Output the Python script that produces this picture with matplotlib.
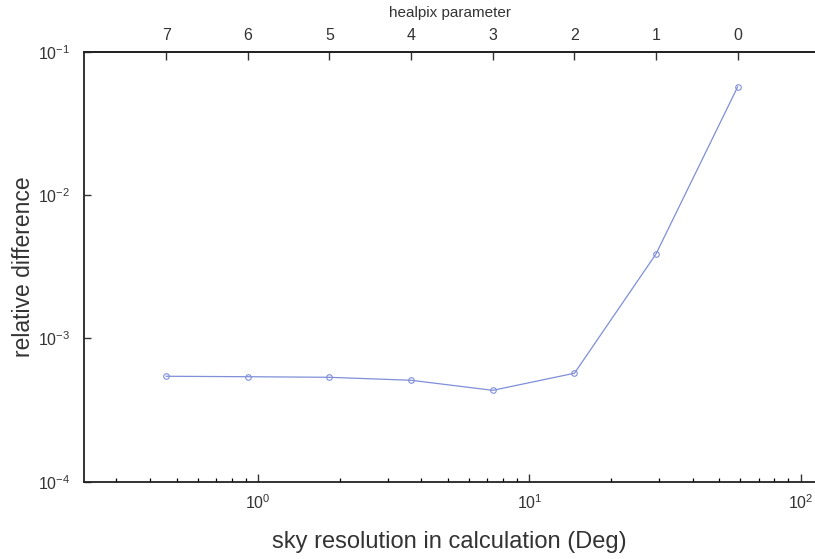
import numpy as np
import matplotlib.pyplot as plt
from matplotlib.ticker import LogLocator, NullFormatter, NullLocator

plt.rcParams["font.family"] = ["Liberation Sans", "DejaVu Sans"]
plt.rcParams["mathtext.fontset"] = "custom"
plt.rcParams["mathtext.rm"] = "Liberation Sans"
plt.rcParams["mathtext.it"] = "Liberation Sans"

# healpix parameter k and the sky resolution (deg) it corresponds to
healpix_k = [7, 6, 5, 4, 3, 2, 1, 0]
resolution_deg = [0.458, 0.916, 1.83, 3.66, 7.33, 14.66, 29.3, 58.6]
rel_diff = [5.44e-4, 5.40e-4, 5.35e-4, 5.10e-4, 4.34e-4, 5.71e-4, 3.88e-3, 5.68e-2]

TEXT = "#333333"
LINE = "#7f8fd8"

fig = plt.figure(figsize=(8.15, 5.59), dpi=100)
ax = fig.add_axes([0.1034, 0.1383, 0.8966, 0.7692])

ax.plot(resolution_deg, rel_diff, color=LINE, lw=0.9, marker="o", ms=4,
        mfc="none", mec=LINE, mew=0.8)

ax.set_xscale("log")
ax.set_yscale("log")
ax.set_xlim(0.2285, 113)
ax.set_ylim(1e-4, 1e-1)

for side in ["left", "bottom", "top"]:
    ax.spines[side].set_linewidth(1.3)
    ax.spines[side].set_color("#222222")
ax.spines["right"].set_visible(False)

ax.xaxis.set_minor_locator(LogLocator(base=10, subs=np.arange(2, 10)))
ax.xaxis.set_minor_formatter(NullFormatter())
ax.yaxis.set_minor_locator(NullLocator())
ax.tick_params(axis="x", which="major", direction="in", length=6, width=1.0,
               labelsize=11.5, colors=TEXT, pad=8, top=False)
ax.tick_params(axis="x", which="minor", direction="in", length=3, width=0.9, top=False)
ax.tick_params(axis="y", which="major", direction="in", length=5, width=1.0,
               labelsize=11.5, colors=TEXT, pad=10, right=False)

ax.set_xlabel("sky resolution in calculation (Deg)", fontsize=17, color=TEXT, labelpad=14)
ax.set_ylabel("relative difference", fontsize=16.5, color=TEXT, labelpad=2)

# top axis: healpix parameter at the same positions
top = ax.twiny()
top.set_xscale("log")
top.set_xlim(ax.get_xlim())
top.set_xticks(resolution_deg)
top.set_xticklabels([str(k) for k in healpix_k])
top.xaxis.set_minor_locator(NullLocator())
top.tick_params(axis="x", which="major", direction="in", length=6, width=1.0,
                labelsize=11.5, colors=TEXT, pad=6)
for side in ["left", "right", "bottom"]:
    top.spines[side].set_visible(False)
top.spines["top"].set_linewidth(1.3)
top.spines["top"].set_color("#222222")
top.set_xlabel("healpix parameter", fontsize=11, color=TEXT, labelpad=8)

fig.savefig("out.png", dpi=100)
